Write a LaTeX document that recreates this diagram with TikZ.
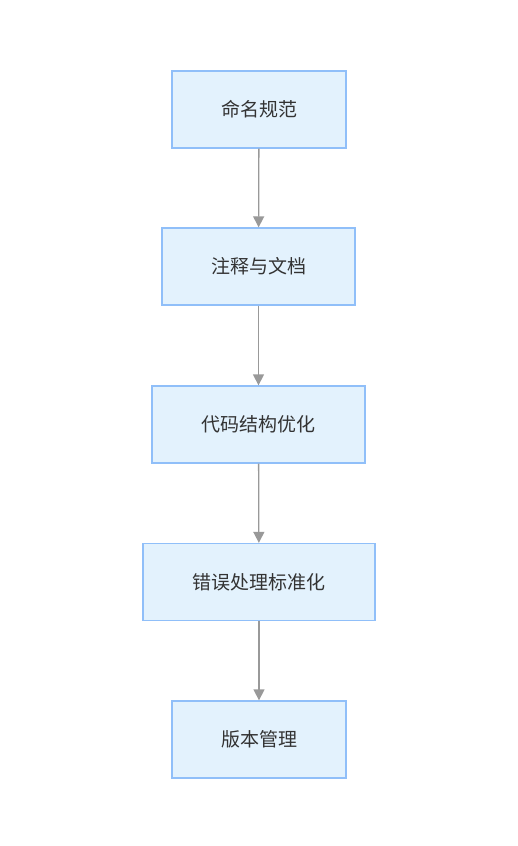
\documentclass[tikz,border=0pt]{standalone}
\usepackage{fontspec}
\newfontfamily\cjk{Noto Sans CJK SC}
\usetikzlibrary{arrows.meta}
\definecolor{boxfill}{HTML}{E3F2FD}
\definecolor{boxline}{HTML}{90BFF9}
\definecolor{arrowgray}{HTML}{999999}
\definecolor{txt}{HTML}{333333}
\begin{document}
\begin{tikzpicture}[x=1pt,y=-1pt,
  stepbox/.style={draw=boxline, line width=1.3pt, fill=boxfill, minimum height=77pt,
    inner sep=0pt, font=\cjk\fontsize{19}{22}\selectfont, text=txt},
  conn/.style={draw=arrowgray, line width=1.3pt, -{Triangle[length=11pt,width=11pt]}}]
\useasboundingbox (0,0) rectangle (517,846);
\node[stepbox, minimum width=174pt] (a) at (259,109.5) {命名规范};
\node[stepbox, minimum width=193pt] (b) at (258.5,266.5) {注释与文档};
\node[stepbox, minimum width=213pt] (c) at (258.5,424.5) {代码结构优化};
\node[stepbox, minimum width=232pt] (d) at (259,582) {错误处理标准化};
\node[stepbox, minimum width=174pt] (e) at (259,739.5) {版本管理};
\draw[conn] (a) -- (b);
\draw[conn] (b) -- (c);
\draw[conn] (c) -- (d);
\draw[conn] (d) -- (e);
\end{tikzpicture}
\end{document}
